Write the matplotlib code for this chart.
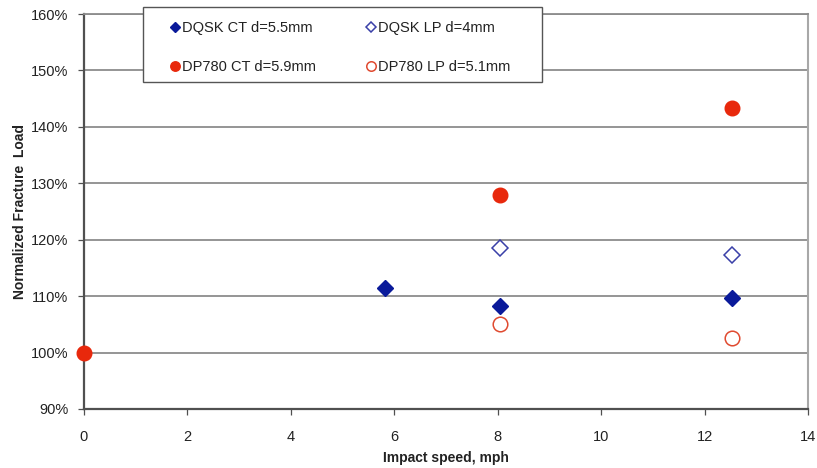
import matplotlib
matplotlib.use("Agg")
import matplotlib.pyplot as plt
from matplotlib.patches import Rectangle

plt.rcParams["font.family"] = ["Liberation Sans", "DejaVu Sans"]

# Impact speed (mph) and normalized fracture load (%) per series
dqsk_ct_x = [5.82, 8.05, 12.53]
dqsk_ct_y = [111.4, 108.3, 109.7]
dqsk_lp_x = [8.05, 12.53]
dqsk_lp_y = [118.6, 117.3]
dp780_ct_x = [0.0, 8.05, 12.53]
dp780_ct_y = [100.0, 127.9, 143.4]
dp780_lp_x = [8.05, 12.53]
dp780_lp_y = [105.1, 102.6]

x_ticks = [0, 2, 4, 6, 8, 10, 12, 14]
y_ticks = [90, 100, 110, 120, 130, 140, 150, 160]

NAVY = "#0a1a9a"
BLUE = "#3a40a8"
RED = "#e8280c"
ORANGE_RED = "#e04a30"
TEXT = "#222222"
GRID = "#8c8c8c"
AXIS = "#505050"

W, H = 817, 468
fig = plt.figure(figsize=(W / 100, H / 100), dpi=100, facecolor="white")
ax = fig.add_axes([84 / W, 1 - 409 / H, (808 - 84) / W, (409 - 14) / H])

h1, = ax.plot(dqsk_ct_x, dqsk_ct_y, "D", color=NAVY, ms=8, ls="none",
              label="DQSK CT d=5.5mm", clip_on=False, zorder=3)
h2, = ax.plot(dqsk_lp_x, dqsk_lp_y, "D", mfc="white", mec=BLUE, mew=1.1,
              ms=8, ls="none", label="DQSK LP d=4mm", clip_on=False, zorder=3)
h3, = ax.plot(dp780_ct_x, dp780_ct_y, "o", color=RED, ms=10.5, ls="none",
              label="DP780 CT d=5.9mm", clip_on=False, zorder=3)
h4, = ax.plot(dp780_lp_x, dp780_lp_y, "o", mfc="white", mec=ORANGE_RED,
              mew=1.1, ms=10.5, ls="none", label="DP780 LP d=5.1mm",
              clip_on=False, zorder=3)

ax.set_xlim(0, 14)
ax.set_ylim(90, 160)
ax.set_xticks(x_ticks)
ax.set_yticks(y_ticks)
ax.set_yticklabels([f"{v}%" for v in y_ticks])
ax.tick_params(axis="both", labelsize=10.5, labelcolor=TEXT, color=AXIS,
               length=4.3, width=0.9, direction="out")
ax.tick_params(axis="x", pad=11)
ax.tick_params(axis="y", pad=7)

ax.yaxis.grid(True, color=GRID, lw=1.3)
ax.set_axisbelow(True)
ax.spines["top"].set_color(GRID)
ax.spines["top"].set_linewidth(1.3)
ax.spines["right"].set_color("#a8a8a8")
ax.spines["right"].set_linewidth(1.5)
for side in ("left", "bottom"):
    ax.spines[side].set_color(AXIS)
    ax.spines[side].set_linewidth(1.6)

ax.set_xlabel("Impact speed, mph", fontsize=10, fontweight="bold", color=TEXT,
              labelpad=5)
ax.set_ylabel("Normalized Fracture  Load", fontsize=10, fontweight="bold",
              color=TEXT, labelpad=3)

# Legend box (white, hides the gridlines), with two legend columns inside it
fig.add_artist(Rectangle((143 / W, 1 - 82 / H), (542 - 143) / W, 75 / H,
                         transform=fig.transFigure, facecolor="white",
                         edgecolor="#555555", lw=1.0, zorder=2))
leg_kw = dict(loc="upper left", fontsize=10.5, frameon=False,
              handlelength=0.6, handletextpad=0.15, labelspacing=1.7,
              markerscale=0.65, borderpad=0, borderaxespad=0,
              labelcolor=TEXT)
for handles, x0 in (([h1, h3], 171), ([h2, h4], 367)):
    leg = fig.legend(handles, [h.get_label() for h in handles],
                     bbox_to_anchor=(x0 / W, 1 - 21 / H), **leg_kw)
    leg.set_zorder(3)

fig.savefig("out.png", dpi=100, facecolor="white")
